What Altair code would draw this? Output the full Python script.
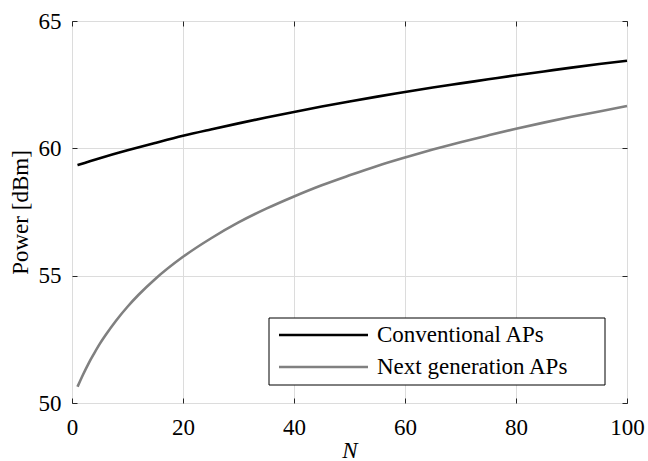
import altair as alt
import pandas as pd

# ---- data ----
n_conv = [1, 5, 10, 15, 20, 25, 30, 35, 40, 45, 50, 55, 60, 65, 70, 75, 80, 85, 90, 95, 100]
p_conv = [59.34, 59.61, 59.92, 60.21, 60.49, 60.74, 60.98, 61.21, 61.43, 61.64, 61.84,
          62.03, 62.21, 62.39, 62.55, 62.71, 62.87, 63.02, 63.17, 63.31, 63.44]
n_next = [1, 2, 3, 4, 5, 6, 8, 10, 12, 15, 20, 25, 30, 35, 40, 45, 50, 55, 60, 65, 70,
          75, 80, 85, 90, 95, 100]
p_next = [50.64, 51.12, 51.56, 51.95, 52.32, 52.65, 53.25, 53.78, 54.25, 54.87, 55.74,
          56.46, 57.09, 57.63, 58.11, 58.55, 58.94, 59.31, 59.64, 59.95, 60.24, 60.51,
          60.77, 61.01, 61.24, 61.45, 61.66]
series = ["Conventional APs", "Next generation APs"]
colors = ["#000000", "#808080"]
x_ticks = [0, 20, 40, 60, 80, 100]
y_ticks = [50, 55, 60, 65]

FONT = "Liberation Serif"
FS = 23
FRAME = "#262626"

df = pd.concat([
    pd.DataFrame({"N": n_conv, "P": p_conv, "series": series[0]}),
    pd.DataFrame({"N": n_next, "P": p_next, "series": series[1]}),
], ignore_index=True)

x_scale = alt.Scale(domain=[0, 100], nice=False, zero=False)
y_scale = alt.Scale(domain=[50, 65], nice=False, zero=False)

common = dict(labelFont=FONT, labelFontSize=FS, labelColor="black", labelFlush=False,
              titleFont=FONT, titleFontSize=FS, titleFontWeight="normal", titleColor="black",
              tickColor=FRAME, tickWidth=1, tickSize=5, offset=-5, domain=False,
              gridColor="#dcdcdc", gridWidth=1, format="d")

lines = alt.Chart(df).mark_line(strokeWidth=2.6, interpolate="monotone").encode(
    x=alt.X("N:Q", scale=x_scale,
            axis=alt.Axis(orient="bottom", values=x_ticks, title="N", titleFontStyle="italic",
                          labelPadding=13, titlePadding=0, grid=True, **common)),
    y=alt.Y("P:Q", scale=y_scale,
            axis=alt.Axis(orient="left", values=y_ticks, title="Power [dBm]",
                          labelPadding=11, titlePadding=6, grid=True, **common)),
    color=alt.Color("series:N", scale=alt.Scale(domain=series, range=colors), legend=None),
)

mirror = alt.Chart(df).mark_line(opacity=0).encode(
    x=alt.X("N:Q", scale=x_scale,
            axis=alt.Axis(orient="top", values=x_ticks, title="", labels=False,
                          grid=False, **common)),
    y=alt.Y("P:Q", scale=y_scale,
            axis=alt.Axis(orient="right", values=y_ticks, title="", labels=False,
                          grid=False, **common)),
    detail="series:N",
)

one = pd.DataFrame({"k": [0]})
box = alt.Chart(one).mark_rect(fill="white", stroke="black", strokeWidth=1).encode(
    x=alt.value(197), x2=alt.value(533), y=alt.value(297), y2=alt.value(364))

rule1 = alt.Chart(one).mark_rule(color=colors[0], strokeWidth=2.6).encode(
    x=alt.value(207), x2=alt.value(296), y=alt.value(314))
rule2 = alt.Chart(one).mark_rule(color=colors[1], strokeWidth=2.6).encode(
    x=alt.value(207), x2=alt.value(296), y=alt.value(346))

text1 = alt.Chart(pd.DataFrame({"label": [series[0]]})).mark_text(
    align="left", baseline="middle", font=FONT, fontSize=FS, color="black").encode(
    x=alt.value(305), y=alt.value(314), text="label:N")
text2 = alt.Chart(pd.DataFrame({"label": [series[1]]})).mark_text(
    align="left", baseline="middle", font=FONT, fontSize=FS, color="black").encode(
    x=alt.value(305), y=alt.value(346), text="label:N")

chart = alt.layer(mirror, lines, box, rule1, rule2, text1, text2).resolve_axis(
    x="independent", y="independent"
).properties(
    width=555, height=382,
    autosize=alt.AutoSizeParams(type="none"),
    padding={"left": 72, "top": 21, "right": 21, "bottom": 58},
    background="white",
).configure_view(
    stroke=FRAME, strokeWidth=1
)

chart.save("out.html", embed_options={"renderer": "svg", "actions": False})
